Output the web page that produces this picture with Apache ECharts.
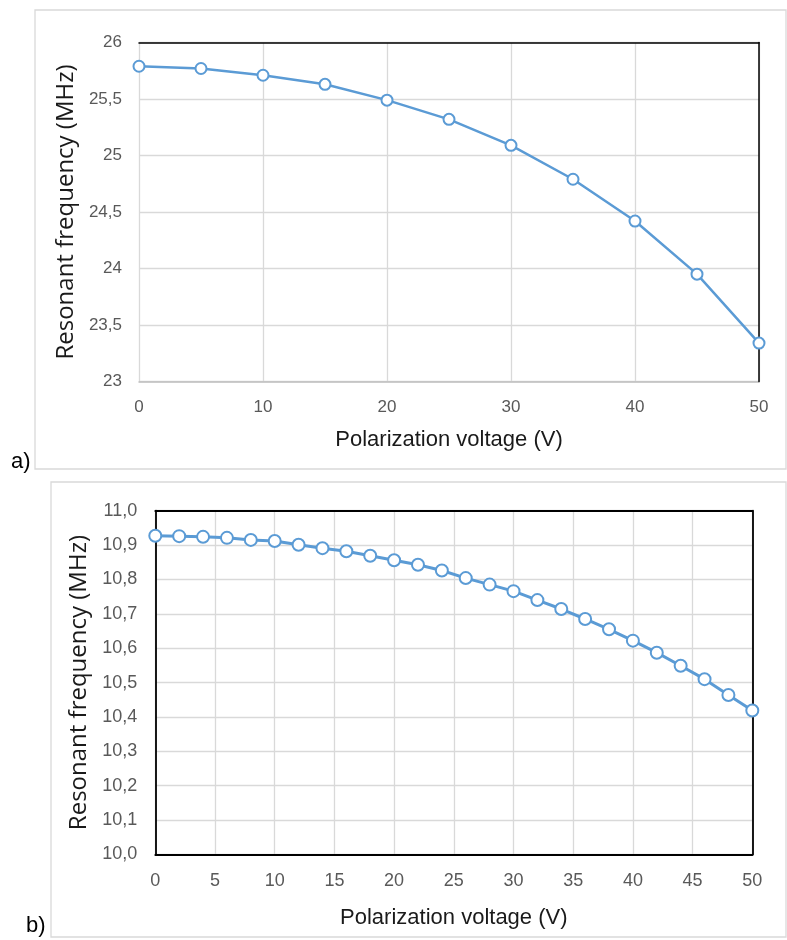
<!DOCTYPE html>
<html>
<head>
<meta charset="utf-8">
<script src="https://cdn.jsdelivr.net/npm/echarts@6/dist/echarts.min.js"></script>
<style>
html,body{margin:0;padding:0;background:#fff;}
#chart{width:787px;height:940px;}
</style>
</head>
<body>
<div id="chart"></div>
<script>
// ---- Data ----
const voltageA = [0, 5, 10, 15, 20, 25, 30, 35, 40, 45, 50];
const freqA = [25.79, 25.77, 25.71, 25.63, 25.49, 25.32, 25.09, 24.79, 24.42, 23.95, 23.34];

const voltageB = [0, 2, 4, 6, 8, 10, 12, 14, 16, 18, 20, 22, 24, 26, 28, 30, 32, 34, 36, 38, 40, 42, 44, 46, 48, 50];
const freqB = [10.927, 10.926, 10.924, 10.921, 10.915, 10.912, 10.901, 10.891, 10.882, 10.869, 10.856,
               10.843, 10.826, 10.804, 10.785, 10.766, 10.740, 10.714, 10.685, 10.655, 10.622,
               10.587, 10.549, 10.510, 10.464, 10.419];

const xTitle = 'Polarization voltage (V)';
const yTitle = 'Resonant frequency (MHz)';
const panelLabels = ['a)', 'b)'];

// ---- Styling ----
const blue = '#5B9BD5';
const gridGray = '#d9d9d9';
const tickColor = '#595959';
const tickFont = 'Liberation Sans, Arial, sans-serif';
const titleFontY = 'Open Sans, sans-serif';
const titleFontX = 'Liberation Sans, Arial, sans-serif';

const pairA = voltageA.map((v, i) => [v, freqA[i]]);
const pairB = voltageB.map((v, i) => [v, freqB[i]]);

const chart = echarts.init(document.getElementById('chart'), null, {renderer: 'canvas'});

function frameAxisX(gridIndex, min, max, color, width, pos) {
  return {
    type: 'value', gridIndex, min, max, position: pos, z: 5,
    axisLine: {show: true, onZero: false, lineStyle: {color, width}},
    axisTick: {show: false}, axisLabel: {show: false}, splitLine: {show: false}
  };
}
function frameAxisY(gridIndex, min, max, color, width, pos) {
  return {
    type: 'value', gridIndex, min, max, position: pos, z: 5,
    axisLine: {show: true, onZero: false, lineStyle: {color, width}},
    axisTick: {show: false}, axisLabel: {show: false}, splitLine: {show: false}
  };
}

const option = {
  backgroundColor: '#fff',
  animation: false,
  graphic: [
    {type: 'rect', z: -10, shape: {x: 35, y: 10, width: 751, height: 459},
      style: {fill: 'none', stroke: gridGray, lineWidth: 1.3}},
    {type: 'rect', z: -10, shape: {x: 51, y: 482, width: 735, height: 455},
      style: {fill: 'none', stroke: gridGray, lineWidth: 1.3}},
    {type: 'text', left: 11, top: 451,
      style: {text: panelLabels[0], font: '22px Liberation Sans, Arial, sans-serif', fill: '#000'}},
    {type: 'text', left: 26, top: 915,
      style: {text: panelLabels[1], font: '22px Liberation Sans, Arial, sans-serif', fill: '#000'}}
  ],
  grid: [
    {left: 139, top: 42.5, right: 28, bottom: 558.5},
    {left: 155.3, top: 510.7, right: 34.7, bottom: 85.5}
  ],
  xAxis: [
    {
      type: 'value', gridIndex: 0, min: 0, max: 50, interval: 10,
      name: xTitle, nameLocation: 'middle', nameGap: 47,
      nameTextStyle: {fontFamily: titleFontX, fontSize: 22, color: '#1a1a1a'},
      axisLine: {show: true, lineStyle: {color: '#bfbfbf', width: 1.5}},
      axisTick: {show: false},
      axisLabel: {color: tickColor, fontFamily: tickFont, fontSize: 17, margin: 17},
      splitLine: {show: true, lineStyle: {color: gridGray, width: 1.3}}
    },
    frameAxisX(0, 0, 50, '#000', 1.5, 'top'),
    {
      type: 'value', gridIndex: 1, min: 0, max: 50, interval: 5,
      name: xTitle, nameLocation: 'middle', nameGap: 52,
      nameTextStyle: {fontFamily: titleFontX, fontSize: 22, color: '#1a1a1a'},
      axisLine: {show: true, onZero: false, lineStyle: {color: '#000', width: 1.8}},
      axisTick: {show: false}, z: 5,
      axisLabel: {color: tickColor, fontFamily: tickFont, fontSize: 18, margin: 18},
      splitLine: {show: true, lineStyle: {color: gridGray, width: 1.3}}
    },
    frameAxisX(1, 0, 50, '#000', 1.8, 'top')
  ],
  yAxis: [
    {
      type: 'value', gridIndex: 0, min: 23, max: 26, interval: 0.5,
      name: yTitle, nameLocation: 'middle', nameGap: 60,
      nameTextStyle: {fontFamily: titleFontY, fontSize: 24, color: '#1a1a1a'},
      axisLine: {show: false},
      axisTick: {show: false},
      axisLabel: {color: tickColor, fontFamily: tickFont, fontSize: 17, margin: 17,
        formatter: v => String(Math.round(v * 10) / 10).replace('.', ',')},
      splitLine: {show: true, lineStyle: {color: gridGray, width: 1.3}}
    },
    frameAxisY(0, 23, 26, '#000', 1.5, 'right'),
    {
      type: 'value', gridIndex: 1, min: 10, max: 11, interval: 0.1,
      name: yTitle, nameLocation: 'middle', nameGap: 64,
      nameTextStyle: {fontFamily: titleFontY, fontSize: 24, color: '#1a1a1a'},
      axisLine: {show: true, onZero: false, lineStyle: {color: '#000', width: 1.8}},
      axisTick: {show: false}, z: 5,
      axisLabel: {color: tickColor, fontFamily: tickFont, fontSize: 18, margin: 18,
        formatter: v => v.toFixed(1).replace('.', ',')},
      splitLine: {show: true, lineStyle: {color: gridGray, width: 1.3}}
    },
    frameAxisY(1, 10, 11, '#000', 1.8, 'right')
  ],
  series: [
    {
      type: 'line', xAxisIndex: 0, yAxisIndex: 0, data: pairA, z: 10,
      symbol: 'circle', symbolSize: 11,
      lineStyle: {color: blue, width: 2.5},
      itemStyle: {color: '#fff', borderColor: blue, borderWidth: 2}
    },
    {
      type: 'line', xAxisIndex: 2, yAxisIndex: 2, data: pairB, z: 10,
      symbol: 'circle', symbolSize: 12,
      lineStyle: {color: blue, width: 3},
      itemStyle: {color: '#fff', borderColor: blue, borderWidth: 2}
    }
  ]
};
chart.setOption(option);
</script>
</body>
</html>
